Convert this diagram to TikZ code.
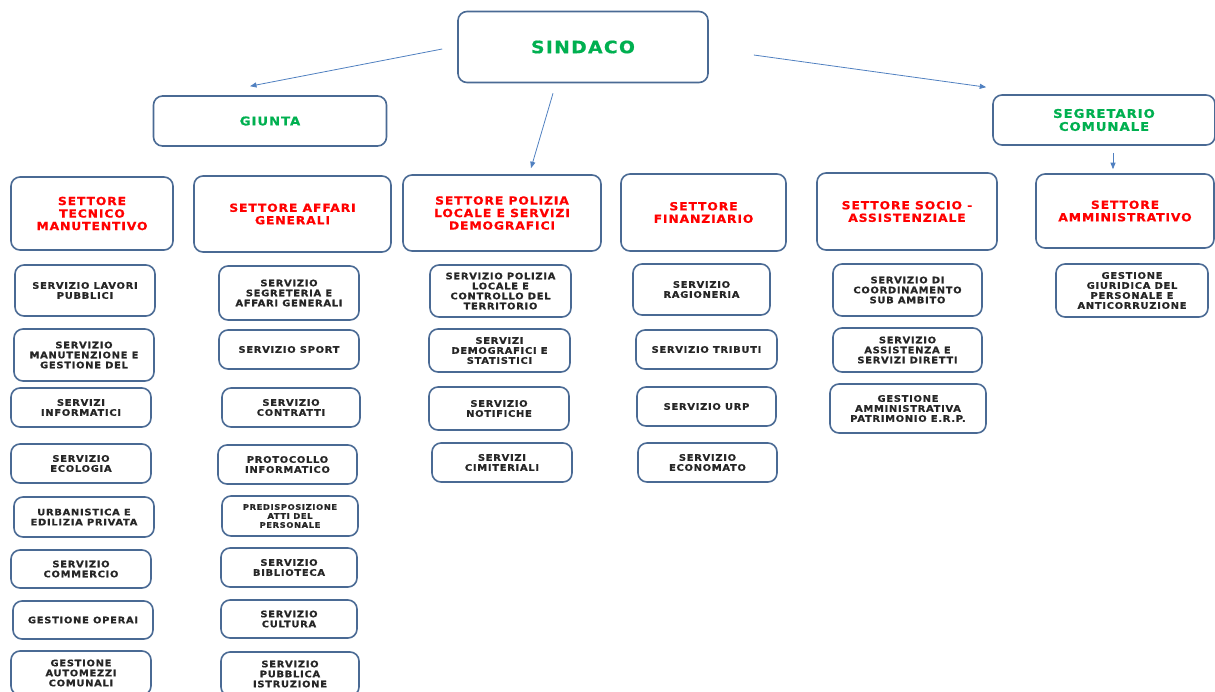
\documentclass[tikz,border=0pt]{standalone}
\usepackage{fontspec}
\setmainfont{DejaVu Sans}[FakeStretch=1.1,LetterSpace=8,BoldFeatures={FakeBold=0.8}]
\usetikzlibrary{arrows.meta}
\definecolor{boxline}{HTML}{4A6A94}
\definecolor{arrline}{HTML}{5080C0}
\definecolor{topgreen}{HTML}{00B050}
\definecolor{settred}{HTML}{FF0000}
\definecolor{servtext}{HTML}{262626}
\tikzset{
  orgbox/.style={draw=boxline,line width=1.6pt,rounded corners=9pt,align=center,inner sep=0pt,fill=white},
  topbox/.style={orgbox,text=topgreen,font=\bfseries\fontsize{12}{13}\selectfont},
  settbox/.style={orgbox,text=settred,font=\bfseries\fontsize{11.2}{12.5}\selectfont},
  servbox/.style={orgbox,text=servtext,font=\bfseries\fontsize{9}{10}\selectfont},
  arr/.style={draw=arrline,line width=0.8pt,-{Triangle[length=6.5pt,width=5pt]}}
}
\begin{document}
\begin{tikzpicture}[x=1pt,y=-1pt,line join=round]
\useasboundingbox (0,0) rectangle (1215,691);
% vertici
\node[topbox,minimum width=250,minimum height=71,font=\bfseries\fontsize{17}{18}\selectfont] (sindaco) at (583,47) {SINDACO};
\node[topbox,minimum width=233,minimum height=50] (giunta) at (270,121) {GIUNTA};
\node[topbox,minimum width=222,minimum height=50] (segretario) at (1104,120) {SEGRETARIO\\COMUNALE};
% settori
\node[settbox,minimum width=162,minimum height=73] (tecnico) at (92,213.5) {SETTORE\\TECNICO\\MANUTENTIVO};
\node[settbox,minimum width=197,minimum height=76] (affari) at (292.5,214) {SETTORE AFFARI\\GENERALI};
\node[settbox,minimum width=198,minimum height=76] (polizia) at (502,213) {SETTORE POLIZIA\\LOCALE E SERVIZI\\DEMOGRAFICI};
\node[settbox,minimum width=165,minimum height=77] (finanza) at (703.5,212.5) {SETTORE\\FINANZIARIO};
\node[settbox,minimum width=180,minimum height=77] (socio) at (907,211.5) {SETTORE SOCIO -\\ASSISTENZIALE};
\node[settbox,minimum width=178,minimum height=74] (ammin) at (1125,211) {SETTORE\\AMMINISTRATIVO};
% servizi - tecnico manutentivo
\node[servbox,minimum width=140,minimum height=51] (lavori) at (85,290.5) {SERVIZIO LAVORI\\PUBBLICI};
\node[servbox,minimum width=140,minimum height=52] (manut) at (84,355) {SERVIZIO\\MANUTENZIONE E\\GESTIONE DEL};
\node[servbox,minimum width=140,minimum height=39] (inform) at (81,407.5) {SERVIZI\\INFORMATICI};
\node[servbox,minimum width=140,minimum height=39] (ecolog) at (81,463.5) {SERVIZIO\\ECOLOGIA};
\node[servbox,minimum width=140,minimum height=40] (urban) at (84,517) {URBANISTICA E\\EDILIZIA PRIVATA};
\node[servbox,minimum width=140,minimum height=38] (commer) at (81,569) {SERVIZIO\\COMMERCIO};
\node[servbox,minimum width=140,minimum height=38] (operai) at (83,620) {GESTIONE OPERAI};
\node[servbox,minimum width=140,minimum height=44] (automez) at (81,673) {GESTIONE\\AUTOMEZZI\\COMUNALI};
% servizi - affari generali
\node[servbox,minimum width=140,minimum height=54] (segret) at (289,293) {SERVIZIO\\SEGRETERIA E\\AFFARI GENERALI};
\node[servbox,minimum width=140,minimum height=39] (sport) at (289,349.5) {SERVIZIO SPORT};
\node[servbox,minimum width=138,minimum height=39] (contr) at (291,407.5) {SERVIZIO\\CONTRATTI};
\node[servbox,minimum width=139,minimum height=39] (protoc) at (287.5,464.5) {PROTOCOLLO\\INFORMATICO};
\node[servbox,minimum width=136,minimum height=40,font=\bfseries\fontsize{7.6}{9}\selectfont] (predisp) at (290,516) {PREDISPOSIZIONE\\ATTI DEL\\PERSONALE};
\node[servbox,minimum width=136,minimum height=39] (biblio) at (289,567.5) {SERVIZIO\\BIBLIOTECA};
\node[servbox,minimum width=136,minimum height=38] (cultura) at (289,619) {SERVIZIO\\CULTURA};
\node[servbox,minimum width=138,minimum height=44] (istruz) at (290,674) {SERVIZIO\\PUBBLICA\\ISTRUZIONE};
% servizi - polizia locale
\node[servbox,minimum width=141,minimum height=52] (pollocale) at (500.5,291) {SERVIZIO POLIZIA\\LOCALE E\\CONTROLLO DEL\\TERRITORIO};
\node[servbox,minimum width=141,minimum height=43] (demogr) at (499.5,350.5) {SERVIZI\\DEMOGRAFICI E\\STATISTICI};
\node[servbox,minimum width=140,minimum height=43] (notif) at (499,408.5) {SERVIZIO\\NOTIFICHE};
\node[servbox,minimum width=140,minimum height=39] (cimit) at (502,462.5) {SERVIZI\\CIMITERIALI};
% servizi - finanziario
\node[servbox,minimum width=137,minimum height=51] (ragion) at (701.5,289.5) {SERVIZIO\\RAGIONERIA};
\node[servbox,minimum width=141,minimum height=39] (tributi) at (706.5,349.5) {SERVIZIO TRIBUTI};
\node[servbox,minimum width=139,minimum height=39] (urp) at (706.5,406.5) {SERVIZIO URP};
\node[servbox,minimum width=139,minimum height=39] (econ) at (707.5,462.5) {SERVIZIO\\ECONOMATO};
% servizi - socio assistenziale
\node[servbox,minimum width=149,minimum height=52] (coord) at (907.5,290) {SERVIZIO DI\\COORDINAMENTO\\SUB AMBITO};
\node[servbox,minimum width=149,minimum height=44] (assist) at (907.5,350) {SERVIZIO\\ASSISTENZA E\\SERVIZI DIRETTI};
\node[servbox,minimum width=156,minimum height=49] (patrim) at (908,408.5) {GESTIONE\\AMMINISTRATIVA\\PATRIMONIO E.R.P.};
% servizi - amministrativo
\node[servbox,minimum width=152,minimum height=53] (giurid) at (1132,290.5) {GESTIONE\\GIURIDICA DEL\\PERSONALE E\\ANTICORRUZIONE};
% frecce
\draw[arr] ([xshift=-15pt,yshift=-2pt]sindaco.west) -- ([xshift=-20pt,yshift=9pt]giunta.north);
\draw[arr] ([xshift=-30pt,yshift=-10pt]sindaco.south) -- ([xshift=29pt,yshift=6pt]polizia.north);
\draw[arr] ([xshift=45pt,yshift=-8pt]sindaco.east) -- ([xshift=-6pt,yshift=7pt]segretario.north west);
\draw[arr] ([xshift=9pt,yshift=-7pt]segretario.south) -- ([xshift=-12pt,yshift=4pt]ammin.north);
\end{tikzpicture}
\end{document}
